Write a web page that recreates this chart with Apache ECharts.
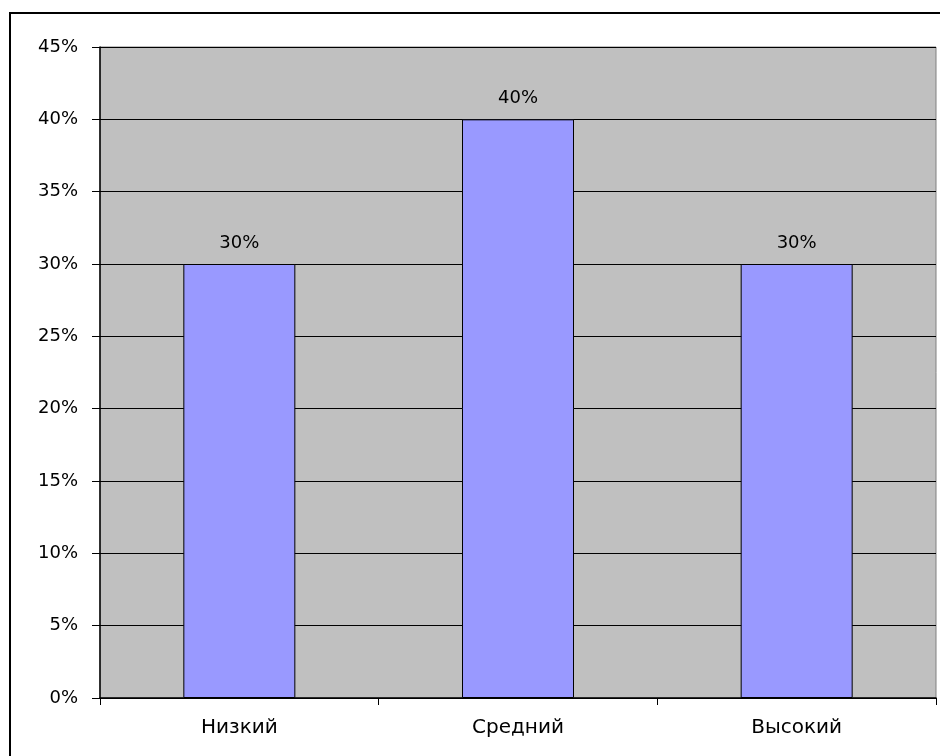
<!DOCTYPE html>
<html>
<head>
<meta charset="utf-8">
<script src="https://cdn.jsdelivr.net/npm/echarts@6/dist/echarts.min.js"></script>
<style>
  html, body { margin: 0; padding: 0; background: #fff; }
  #chart { width: 940px; height: 756px; }
</style>
</head>
<body>
<div id="chart"></div>
<script>
// уровни и доли
const categories = ['Низкий', 'Средний', 'Высокий']
const shares = [30, 40, 30]
const yTicks = [0, 5, 10, 15, 20, 25, 30, 35, 40, 45]

const chart = echarts.init(document.getElementById('chart'), null, { renderer: 'canvas' })

const font = 'DejaVu Sans, Liberation Sans, Arial, sans-serif'

var option = {
  animation: false,
  backgroundColor: '#ffffff',
  graphic: [{
    type: 'rect',
    shape: { x: 10, y: 13, width: 940, height: 760 },
    style: { fill: 'none', stroke: '#000', lineWidth: 2 },
    silent: true,
    z: -1
  }],
  grid: {
    left: 100,
    top: 47,
    right: 4,
    bottom: 58,
    show: true,
    backgroundColor: '#C0C0C0',
    borderColor: '#808080',
    borderWidth: 1
  },
  xAxis: {
    type: 'category',
    data: categories,
    axisLine: { lineStyle: { color: '#000', width: 1.5 } },
    axisTick: { show: true, length: 7, lineStyle: { color: '#000' } },
    axisLabel: { color: '#000', fontSize: 20, fontFamily: font, margin: 20 }
  },
  yAxis: {
    type: 'value',
    min: yTicks[0],
    max: yTicks[yTicks.length - 1],
    interval: 5,
    axisLine: { show: true, lineStyle: { color: '#000', width: 1.5 } },
    axisTick: { show: true, length: 8, lineStyle: { color: '#000' } },
    axisLabel: {
      color: '#000', fontSize: 18, fontFamily: font, margin: 22,
      formatter: function (v) { return v + '%' }
    },
    splitLine: { show: true, lineStyle: { color: '#000', width: 1 } }
  },
  series: [{
    type: 'bar',
    data: shares,
    barWidth: 112,
    itemStyle: { color: '#9999FF', borderColor: '#000', borderWidth: 1 },
    label: {
      show: true,
      position: 'top',
      distance: 12,
      color: '#000',
      fontSize: 18,
      fontFamily: font,
      formatter: function (p) { return p.value + '%' }
    }
  }]
};

chart.setOption(option);
</script>
</body>
</html>
